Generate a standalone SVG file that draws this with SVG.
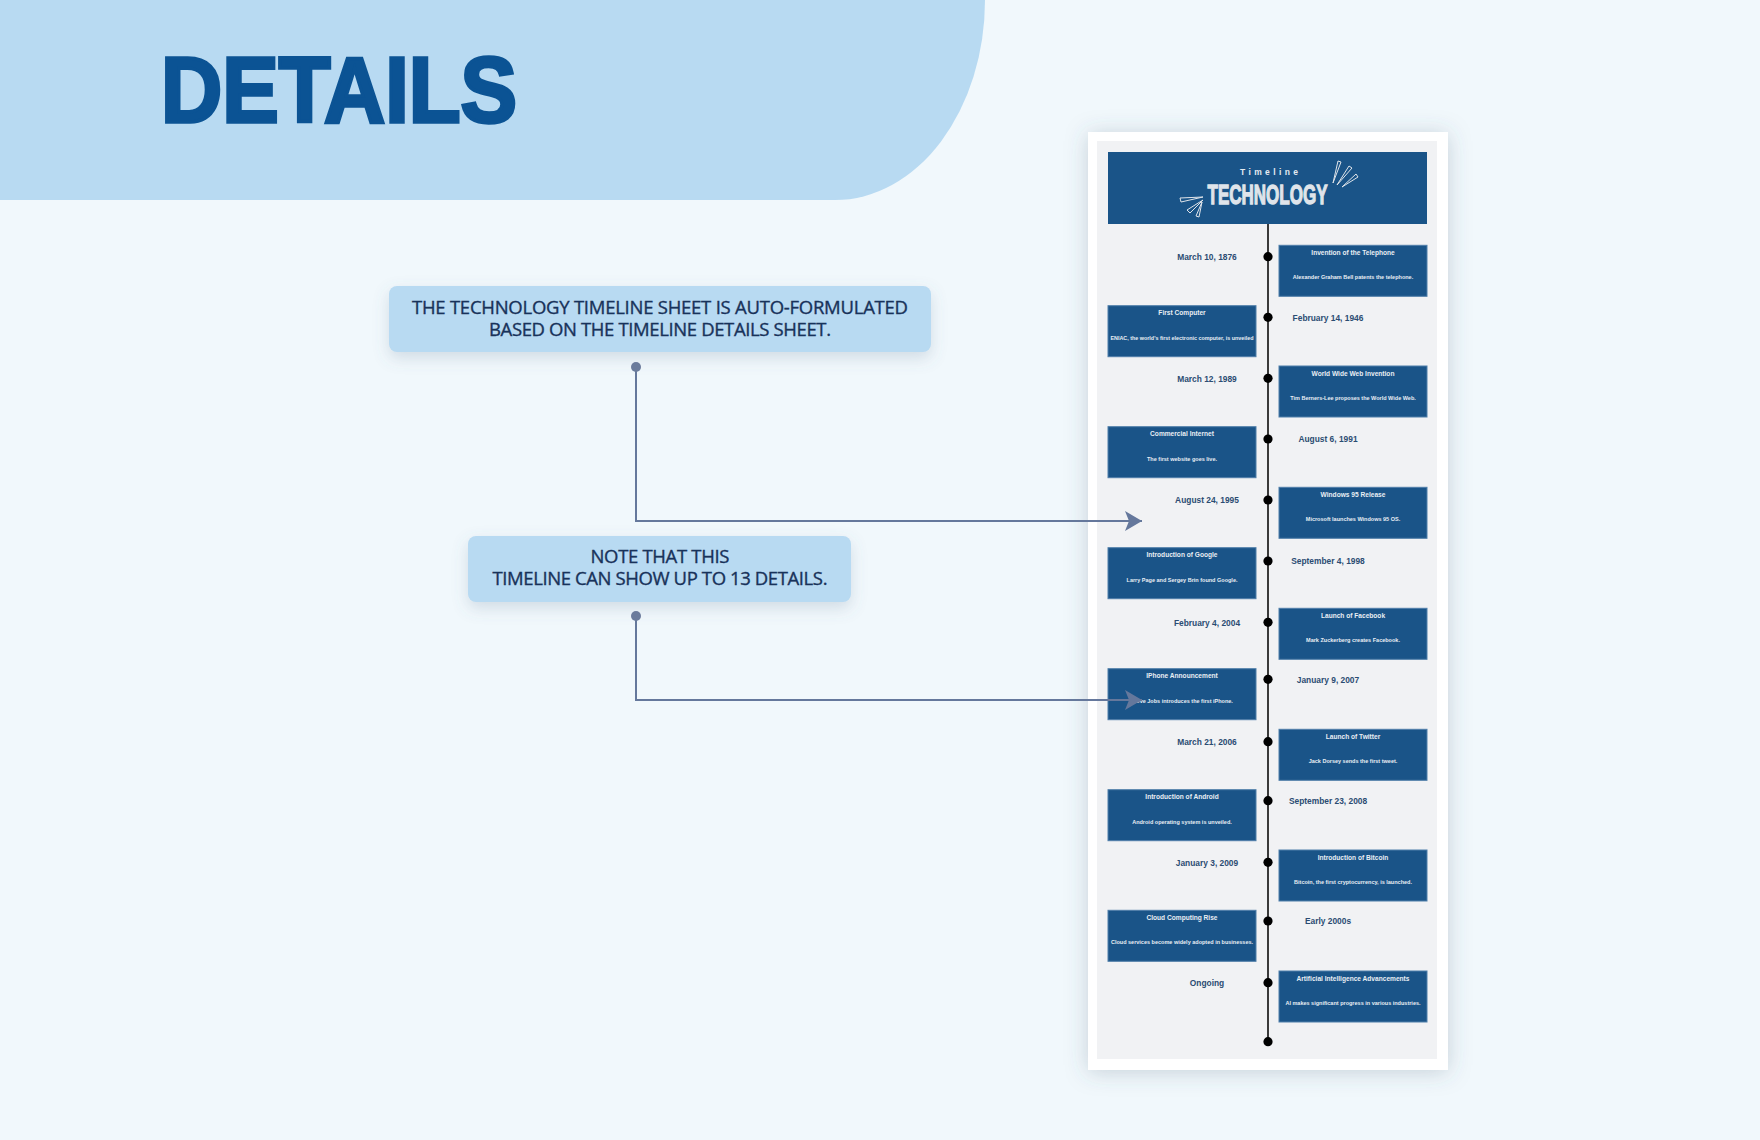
<svg xmlns="http://www.w3.org/2000/svg" width="1760" height="1140" viewBox="0 0 1760 1140">
<defs>
<filter id="sh" x="-20%" y="-40%" width="140%" height="180%">
<feDropShadow dx="0" dy="6" stdDeviation="8" flood-color="#5a7390" flood-opacity="0.22"/>
</filter>
<filter id="cardsh" x="-20%" y="-10%" width="140%" height="120%">
<feDropShadow dx="0" dy="2" stdDeviation="11" flood-color="#4a5a70" flood-opacity="0.26"/>
</filter>
<marker id="arr" viewBox="0 0 18 20" refX="17" refY="10" markerWidth="18" markerHeight="20" markerUnits="userSpaceOnUse" orient="auto">
<path d="M0 0 L17 10 L0 20 L4 10 Z" fill="#65789c"/>
</marker>
<style>
.callout{fill:#b8daf2}
.ctext{font-family:"Open Sans","Noto Sans",sans-serif;font-size:18.5px;font-weight:500;fill:#18325a;stroke:#18325a;stroke-width:0.35px;text-anchor:middle}
.box{fill:#1a5488;stroke:#4f7ea9;stroke-width:1}
.tt{font-family:"Liberation Sans",Arial,sans-serif;font-weight:bold;font-size:6.6px;fill:#e9eef4;text-anchor:middle}
.td{font-family:"Liberation Sans",Arial,sans-serif;font-weight:bold;font-size:5.5px;fill:#e9eef4;text-anchor:middle}
.date{font-family:"Liberation Sans",Arial,sans-serif;font-weight:bold;font-size:8.4px;fill:#2b4c72;text-anchor:middle}
.dot{fill:#000}
.conn{fill:none;stroke:#65789c;stroke-width:2}
.ray{fill:none;stroke:#dfe4ea;stroke-width:1}
</style>
</defs>
<rect width="1760" height="1140" fill="#f1f8fc"/>
<g id="header">
<path d="M0 0 H985 A150 200 0 0 1 835 200 H0 Z" fill="#b8daf2"/>
<text x="161" y="122" font-family="Liberation Sans,Arial,sans-serif" font-weight="bold" font-size="92" fill="#0b5394" stroke="#0b5394" stroke-width="3.5" stroke-linejoin="miter" textLength="356" lengthAdjust="spacingAndGlyphs">DETAILS</text>
</g>
<g id="note1">
<rect x="389" y="286" width="542" height="66" rx="8" class="callout" filter="url(#sh)"/>
<text x="660" y="314" class="ctext" textLength="496">THE TECHNOLOGY TIMELINE SHEET IS AUTO-FORMULATED</text>
<text x="660" y="336" class="ctext" textLength="342">BASED ON THE TIMELINE DETAILS SHEET.</text>
</g>
<g id="note2">
<rect x="468" y="536" width="383" height="66" rx="8" class="callout" filter="url(#sh)"/>
<text x="660" y="563" class="ctext" textLength="139">NOTE THAT THIS</text>
<text x="660" y="585" class="ctext" textLength="335">TIMELINE CAN SHOW UP TO 13 DETAILS.</text>
</g>
<g id="card">
<rect x="1088" y="132" width="360" height="938" fill="#ffffff" filter="url(#cardsh)"/>
<rect x="1097" y="141" width="340" height="918" fill="#f1f2f4"/>
<rect x="1108" y="152" width="319" height="72" fill="#1a5488"/>
<text x="1269" y="175" font-family="Liberation Sans,Arial,sans-serif" font-weight="bold" font-size="8.5" fill="#e6ebf1" text-anchor="middle" textLength="58">Timeline</text>
<text x="1267.5" y="204" font-family="Liberation Sans,Arial,sans-serif" font-weight="bold" font-size="28" fill="#dfe4ea" stroke="#dfe4ea" stroke-width="1.3" text-anchor="middle" textLength="120" lengthAdjust="spacingAndGlyphs">TECHNOLOGY</text>
<polygon class="ray" points="1333,183 1338,161 1341,162"/>
<polygon class="ray" points="1337,185 1349,166 1352,168"/>
<polygon class="ray" points="1342,187 1356,174 1358,177"/>
<polygon class="ray" points="1203,197 1180,198 1181,202"/>
<polygon class="ray" points="1203,200 1187,210 1190,213"/>
<polygon class="ray" points="1202,202 1196,216 1199,217"/>
<line x1="1268" y1="224" x2="1268" y2="1042" stroke="#3a3a3a" stroke-width="2"/>
<circle class="dot" cx="1268" cy="1041.7" r="4.6"/>
</g>
<g id="e1">
<circle class="dot" cx="1268" cy="256.7" r="4.6"/>
<text class="date" x="1207" y="260">March 10, 1876</text>
<rect class="box" x="1279" y="245.3" width="148" height="51"/>
<text class="tt" x="1353" y="254.8">Invention of the Telephone</text>
<text class="td" x="1353" y="279.3">Alexander Graham Bell patents the telephone.</text>
</g>
<g id="e2">
<circle class="dot" cx="1268" cy="317.3" r="4.6"/>
<text class="date" x="1328" y="320.6">February 14, 1946</text>
<rect class="box" x="1108" y="305.7" width="148" height="51"/>
<text class="tt" x="1182" y="315.2">First Computer</text>
<text class="td" x="1182" y="339.7" textLength="143" lengthAdjust="spacingAndGlyphs">ENIAC, the world's first electronic computer, is unveiled</text>
</g>
<g id="e3">
<circle class="dot" cx="1268" cy="378.3" r="4.6"/>
<text class="date" x="1207" y="381.6">March 12, 1989</text>
<rect class="box" x="1279" y="366" width="148" height="51"/>
<text class="tt" x="1353" y="375.5">World Wide Web Invention</text>
<text class="td" x="1353" y="400">Tim Berners-Lee proposes the World Wide Web.</text>
</g>
<g id="e4">
<circle class="dot" cx="1268" cy="439" r="4.6"/>
<text class="date" x="1328" y="442.3">August 6, 1991</text>
<rect class="box" x="1108" y="426.7" width="148" height="51"/>
<text class="tt" x="1182" y="436.2">Commercial Internet</text>
<text class="td" x="1182" y="460.7">The first website goes live.</text>
</g>
<g id="e5">
<circle class="dot" cx="1268" cy="500" r="4.6"/>
<text class="date" x="1207" y="503.3">August 24, 1995</text>
<rect class="box" x="1279" y="487.3" width="148" height="51"/>
<text class="tt" x="1353" y="496.8">Windows 95 Release</text>
<text class="td" x="1353" y="521.3">Microsoft launches Windows 95 OS.</text>
</g>
<g id="e6">
<circle class="dot" cx="1268" cy="561" r="4.6"/>
<text class="date" x="1328" y="564.3">September 4, 1998</text>
<rect class="box" x="1108" y="547.7" width="148" height="51"/>
<text class="tt" x="1182" y="557.2">Introduction of Google</text>
<text class="td" x="1182" y="581.7">Larry Page and Sergey Brin found Google.</text>
</g>
<g id="e7">
<circle class="dot" cx="1268" cy="622.3" r="4.6"/>
<text class="date" x="1207" y="625.6">February 4, 2004</text>
<rect class="box" x="1279" y="608.3" width="148" height="51"/>
<text class="tt" x="1353" y="617.8">Launch of Facebook</text>
<text class="td" x="1353" y="642.3">Mark Zuckerberg creates Facebook.</text>
</g>
<g id="e8">
<circle class="dot" cx="1268" cy="679.3" r="4.6"/>
<text class="date" x="1328" y="682.6">January 9, 2007</text>
<rect class="box" x="1108" y="668.7" width="148" height="51"/>
<text class="tt" x="1182" y="678.2">IPhone Announcement</text>
<text class="td" x="1182" y="702.7">Steve Jobs introduces the first iPhone.</text>
</g>
<g id="e9">
<circle class="dot" cx="1268" cy="741.7" r="4.6"/>
<text class="date" x="1207" y="745">March 21, 2006</text>
<rect class="box" x="1279" y="729.3" width="148" height="51"/>
<text class="tt" x="1353" y="738.8">Launch of Twitter</text>
<text class="td" x="1353" y="763.3">Jack Dorsey sends the first tweet.</text>
</g>
<g id="e10">
<circle class="dot" cx="1268" cy="800.7" r="4.6"/>
<text class="date" x="1328" y="804">September 23, 2008</text>
<rect class="box" x="1108" y="789.7" width="148" height="51"/>
<text class="tt" x="1182" y="799.2">Introduction of Android</text>
<text class="td" x="1182" y="823.7">Android operating system is unveiled.</text>
</g>
<g id="e11">
<circle class="dot" cx="1268" cy="862.3" r="4.6"/>
<text class="date" x="1207" y="865.6">January 3, 2009</text>
<rect class="box" x="1279" y="850" width="148" height="51"/>
<text class="tt" x="1353" y="859.5">Introduction of Bitcoin</text>
<text class="td" x="1353" y="884">Bitcoin, the first cryptocurrency, is launched.</text>
</g>
<g id="e12">
<circle class="dot" cx="1268" cy="921" r="4.6"/>
<text class="date" x="1328" y="924.3">Early 2000s</text>
<rect class="box" x="1108" y="910.3" width="148" height="51"/>
<text class="tt" x="1182" y="919.8">Cloud Computing Rise</text>
<text class="td" x="1182" y="944.3">Cloud services become widely adopted in businesses.</text>
</g>
<g id="e13">
<circle class="dot" cx="1268" cy="982.7" r="4.6"/>
<text class="date" x="1207" y="986">Ongoing</text>
<rect class="box" x="1279" y="971" width="148" height="51"/>
<text class="tt" x="1353" y="980.5">Artificial Intelligence Advancements</text>
<text class="td" x="1353" y="1005">AI makes significant progress in various industries.</text>
</g>
<g id="connectors">
<path class="conn" d="M636 367 V521 H1142" marker-end="url(#arr)"/>
<circle cx="636" cy="367" r="5" fill="#6b7c9c"/>
<path class="conn" d="M636 616 V700 H1142" marker-end="url(#arr)"/>
<circle cx="636" cy="616" r="5" fill="#6b7c9c"/>
</g>
</svg>
